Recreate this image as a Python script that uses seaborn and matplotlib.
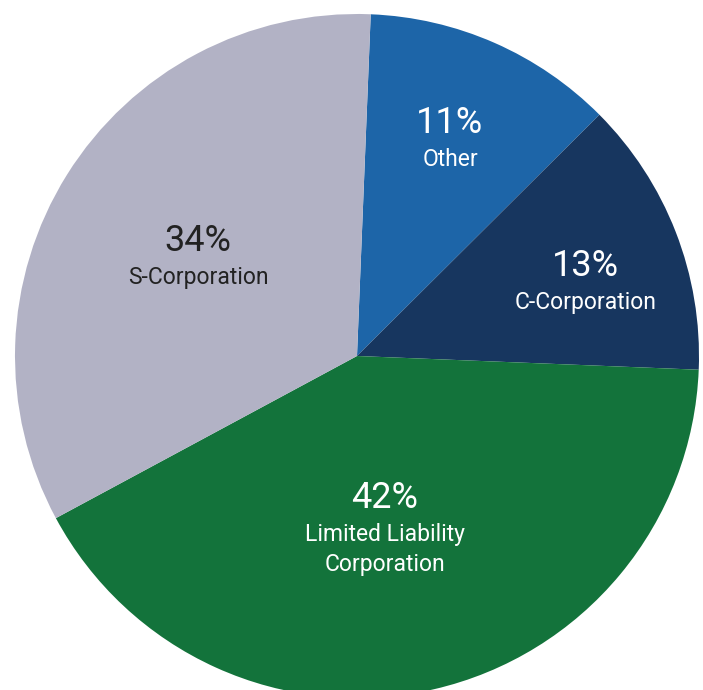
import matplotlib
matplotlib.use("Agg")
import matplotlib.pyplot as plt
import seaborn as sns

# slice shares (clockwise from the top)
categories = ["Other", "C-Corporation", "Limited Liability\nCorporation", "S-Corporation"]
shares = [11.9, 13.1, 41.5, 33.5]
pct_labels = ["11%", "13%", "42%", "34%"]
colors = ["#1D65A8", "#17365F", "#13733B", "#B2B2C5"]
text_colors = ["white", "white", "white", "#222222"]
# percent label centres in data units (pie radius = 1)
label_xy = [(0.272, 0.682), (0.667, 0.264), (0.082, -0.414), (-0.465, 0.337)]

sns.set_theme(style="white")
plt.rcParams["font.family"] = ["Roboto", "DejaVu Sans"]

R_PX = 342.0
fig = plt.figure(figsize=(7.03, 6.90), dpi=100)
ax = fig.add_axes([15 / 703, -8 / 690, 684 / 703, 684 / 690])

ax.pie(shares, colors=colors, startangle=87.7, counterclock=False,
       radius=1, wedgeprops=dict(linewidth=0, antialiased=True))
ax.set_xlim(-1, 1)
ax.set_ylim(-1, 1)
ax.set_aspect("equal")
ax.axis("off")

for name, pct, (x, y), tc in zip(categories, pct_labels, label_xy, text_colors):
    ax.text(x, y, pct, ha="center", va="center", fontsize=26, color=tc)
    for i, line in enumerate(name.split("\n")):
        ax.text(x, y - (37 + 30 * i) / R_PX, line, ha="center", va="center",
                fontsize=16.5, color=tc)

fig.savefig("out.png", dpi=100)
